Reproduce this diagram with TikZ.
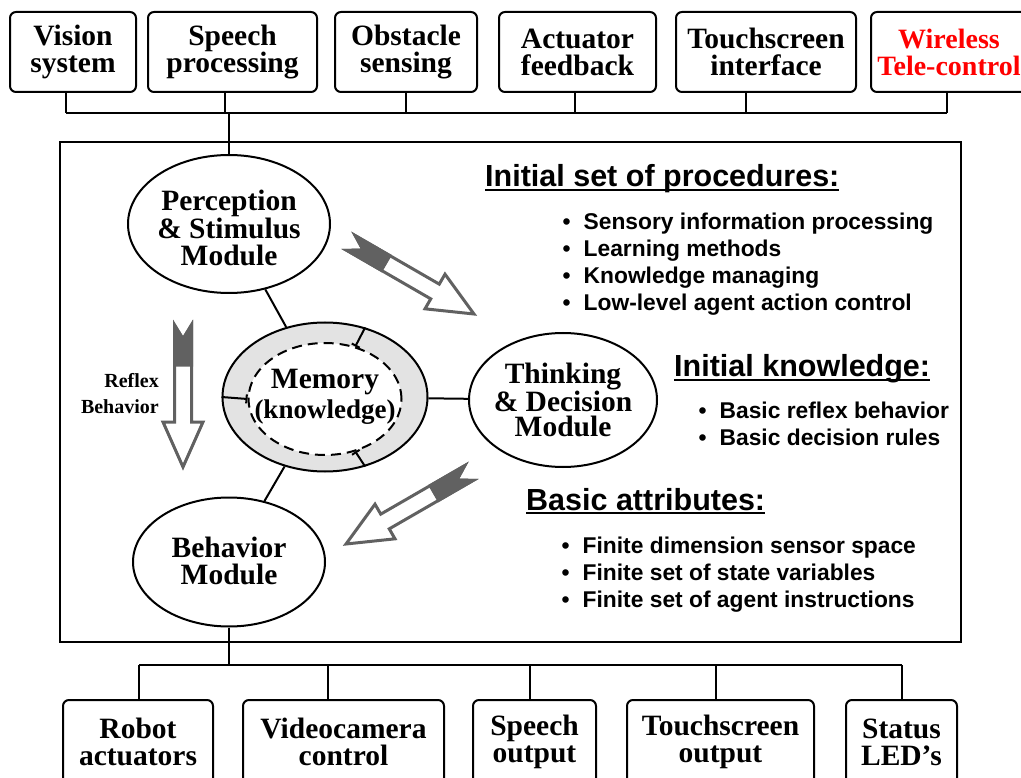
\documentclass[tikz,border=0pt]{standalone}
\usepackage{fontspec}
\setmainfont{Liberation Serif}
\setsansfont{Liberation Sans}
\usetikzlibrary{shapes.geometric,arrows.meta}
\definecolor{arrowgray}{gray}{0.38}
\definecolor{ringgray}{gray}{0.89}
% heading text with a heavy underline just below the baseline
\newcommand{\headrule}[1]{\leavevmode\setbox0\hbox{#1}\rlap{\rule[-4pt]{\wd0}{2pt}}\box0}
\tikzset{
  unit/.style={draw,rounded corners=6pt,line width=2pt,align=center,inner sep=0pt,
    minimum height=80pt,font=\fontsize{29.5}{27}\selectfont\bfseries},
  modl/.style={draw,ellipse,line width=2pt,inner sep=0pt},
  modtext/.style={align=center,inner sep=0pt,
    font=\fontsize{29.5}{26.5}\selectfont\bfseries},
  wire/.style={line width=2pt},
  head/.style={anchor=base west,inner sep=0pt,
    font=\fontsize{30.5}{30}\selectfont\sffamily\bfseries},
  item/.style={anchor=base west,inner sep=0pt,
    font=\fontsize{22.8}{27}\selectfont\sffamily\bfseries},
  arrowline/.style={draw=arrowgray,line width=3pt,line join=miter},
  fatarrow/.pic={
    \draw[arrowline,fill=white] (0,8.5) -- (14,0) -- (0,-8.5) -- (97,-8.5)
      -- (97,-20) -- (142,0) -- (97,20) -- (97,8.5) -- cycle;
    \draw[arrowline,fill=arrowgray] (0,8.5) -- (14,0) -- (0,-8.5)
      -- (40,-8.5) -- (40,8.5) -- cycle;
  },
}

\begin{document}
\begin{tikzpicture}[x=1pt,y=-1pt]
  \fill[white] (0,0) rectangle (1021,778);
  \useasboundingbox (0,0) rectangle (1021,778);

  % sensor side
  \node[unit,minimum width=126pt] (vis) at (73,52)    {Vision\\system};
  \node[unit,minimum width=169pt] (spp) at (232.5,52) {Speech\\processing};
  \node[unit,minimum width=142pt] (obs) at (406,52)   {Obstacle\\sensing};
  \node[unit,minimum width=157pt] (act) at (577.5,52) {Actuator\\feedback};
  \node[unit,minimum width=180pt] (tsi) at (766,52)   {Touchscreen\\interface};
  \node[unit,minimum width=156pt,text=red,font=\fontsize{28}{27}\selectfont\bfseries]
    (wtc) at (949,52) {Wireless\\Tele-control};

  % actuator side
  \node[unit,minimum width=150pt,minimum height=84pt] (rob) at (138,742)   {Robot\\actuators};
  \node[unit,minimum width=201pt,minimum height=84pt] (vid) at (343.5,742) {Videocamera\\control};
  \node[unit,minimum width=123pt,minimum height=84pt] (spo) at (534.5,742) {Speech\\output};
  \node[unit,minimum width=187pt,minimum height=84pt] (tso) at (720.5,742) {Touchscreen\\output};
  \node[unit,minimum width=111pt,minimum height=84pt] (led) at (901.5,742) {Status\\LED's};

  % agent core
  \node[draw,line width=2.5pt,inner sep=0pt,minimum width=901pt,minimum height=500pt]
    (core) at (510.5,392) {};
  \node[modl,minimum width=202pt,minimum height=138pt] (perc) at (229,224) {};
  \node[modl,minimum width=188pt,minimum height=134pt] (think) at (563,400) {};
  \node[modl,minimum width=192pt,minimum height=129pt] (beh) at (229,562) {};
  \node[modl,fill=ringgray,minimum width=205pt,minimum height=149pt] (mem) at (325,397) {};
  \node[modl,fill=white,dash pattern=on 10pt off 6pt,minimum width=153pt,minimum height=112pt]
    (memin) at (325,399) {};
  \foreach \a in {60,180,-60}
    \draw[wire,{Bar[width=9pt]}-] (memin.\a) -- (mem.\a);

  \node[modtext,yshift=-4pt] (perc-txt) at (perc) {Perception\\\& Stimulus\\Module};
  \node[modtext,font=\fontsize{29.5}{25.5}\selectfont\bfseries] (think-txt) at (think)
    {Thinking\\\& Decision\\Module};
  \node[modtext,yshift=1pt] (beh-txt) at (beh) {Behavior\\Module};
  \node[modtext,font=\fontsize{29.5}{30}\selectfont\bfseries,yshift=2pt] (mem-txt) at (memin)
    {Memory\\{\fontsize{27}{30}\selectfont(knowledge)}};

  \draw[wire] (perc) -- (mem);
  \draw[wire] (mem) -- (think);
  \draw[wire] (mem) -- (beh);

  % buses
  \coordinate (busT) at (0,113);
  \coordinate (busB) at (0,665);
  \foreach \b/\dx in {vis/-7,spp/-8,obs/0,act/-3,tsi/-20,wtc/-2} {
    \path ([xshift=\dx pt]\b.south) coordinate (\b-s);
    \draw[wire] (\b-s) -- (\b-s |- busT);
  }
  \draw[wire] (vis-s |- busT) -- (wtc-s |- busT);
  \draw[wire] (perc.north) -- (perc.north |- busT);
  \foreach \b/\dx in {rob/1,vid/-16,spo/-5,tso/-5,led/0} {
    \path ([xshift=\dx pt]\b.north) coordinate (\b-n);
    \draw[wire] (\b-n) -- (\b-n |- busB);
  }
  \draw[wire] (rob-n |- busB) -- (led-n |- busB);
  \draw[wire] (beh.south) -- (beh.south |- busB);

  % flow arrows
  \pic[rotate=-90] at (183,325) {fatarrow};
  \pic[rotate=-30] at (351,243) {fatarrow};
  \pic[rotate=210] at (469,473) {fatarrow};
  \node[anchor=east,align=right,inner sep=0pt,font=\fontsize{20}{26}\selectfont\bfseries]
    (rflx) at (159,394) {Reflex\\Behavior};

  % procedures, knowledge, attributes
  \node[head] (hproc) at (485,187) {\headrule{Initial set of procedures:}};
  \foreach \t [count=\i] in {Sensory information processing,Learning methods,
      Knowledge managing,Low-level agent action control}
    \node[item] (proc\i) at (562.5,{203+27*\i}) {\makebox[21pt][l]{\textbullet}\t};

  \node[head] (hknow) at (674,377) {\headrule{Initial knowledge:}};
  \foreach \t [count=\i] in {Basic reflex behavior,Basic decision rules}
    \node[item] (know\i) at (698.5,{391+27*\i}) {\makebox[21pt][l]{\textbullet}\t};

  \node[head] (hattr) at (526,510) {\headrule{Basic attributes:}};
  \foreach \t [count=\i] in {Finite dimension sensor space,Finite set of state variables,
      Finite set of agent instructions}
    \node[item] (attr\i) at (561.5,{526+27*\i}) {\makebox[21pt][l]{\textbullet}\t};
\end{tikzpicture}
\end{document}
